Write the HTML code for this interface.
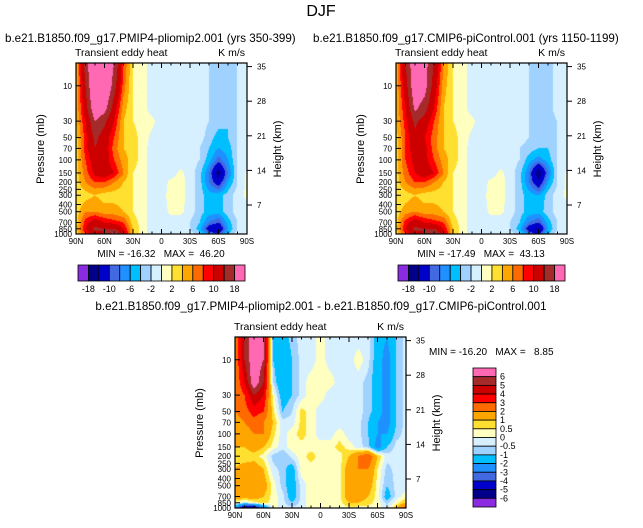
<!DOCTYPE html>
<html><head><meta charset="utf-8">
<style>
body{margin:0;background:#fff;}
#root{position:relative;width:643px;height:528px;overflow:hidden;background:#fff;font-family:"Liberation Sans",sans-serif;}
canvas{position:absolute;}
svg{position:absolute;left:0;top:0;}
text{white-space:pre;}
</style></head>
<body>
<div id="root">
<canvas id="c1"></canvas>
<canvas id="c2"></canvas>
<canvas id="c3"></canvas>
<svg id="s" width="643" height="528"></svg>
</div>
<script>
// ---- data ----
const lats = [90,80,70,60,50,40,30,20,10,0,-10,-20,-30,-40,-50,-60,-70,-80,-90];
const pressures = [5,10,20,30,50,70,100,150,200,300,500,700,850,1000];
const pressureTicks = [10,30,50,70,100,150,200,250,300,400,500,700,850,1000];
const heightTicks = [35,28,21,14,7];
const latTickLabels = ["90N","60N","30N","0","30S","60S","90S"];
const levelsAbs = [-18,-14,-10,-8,-6,-4,-2,0,2,4,6,8,10,14,18];
const absLabels = ["-18","-10","-6","-2","2","6","10","18"];
const levelsDiff = [-6,-5,-4,-3,-2,-1,-0.5,0,0.5,1,2,3,4,5,6];
const diffLabels = ["6","5","4","3","2","1","0.5","0","-0.5","-1","-2","-3","-4","-5","-6"];
const colors = ["#8a2be2","#00008b","#0000cd","#4169e1","#1e90ff","#00bfff","#a0d2ff","#d7f0ff","#ffffc0","#ffe030","#ffa500","#ff6a00","#ff0000","#cd0000","#a52a2a","#ff69b4"];

const pliomip = [
[4,16,24,24,18,8,2,1,-1,-1,-1,-1,-1,-1,-2,-3,-3,-2,-1],
[4,14,24,24,16,7,2,1,-1,-1,-1,-1,-1,-1,-2,-3,-3,-2,-1],
[4,12,22,20,12,5,2,1,-1,-1,-1,-1,-1,-1,-2,-3,-3,-2,-1],
[4,10,18,15,10,4,2,1,0.5,-1,-1,-1,-1,-1,-2,-3,-4,-2,-1],
[3,9,15,12,8,4,3,1,-0.5,-1,-1,-1,-1,-1,-3,-5,-4,-2,-1],
[3,9,14,12,7,4,3,1,-1,-2,-1,-1,-1,-2,-4,-6,-5,-2,-1],
[3,8,12,12,8,5,3,1,-1,-2,-2,-1,-1,-2,-5,-9,-6,-2,-1],
[3,7,11,12,10,6,2,1,-1,-1,-1,0.5,-1,-3,-8,-16,-8,-2,0.5],
[3,6,8,8,6,4,2,1,-1,-1,0.5,1,-1,-3,-8,-12,-6,-2,0.5],
[2,3,4,3,3,3,2,1,-1,-1,1,1,-1,-3,-5,-5,-3,-1,0.5],
[3,6,6,5,5,4,2,1,-1,-1,0.5,0.5,-1,-3,-5,-5,-3,-1,-1],
[3,9,12,10,9,8,3,1,-1,-1,-1,-1,-2,-4,-8,-10,-5,-2,-1],
[3,10,15,14,14,10,4,1,-1,-1,-1,-1,-2,-5,-12,-14,-6,-2,-1],
[3,8,13,14,20,12,4,1,-1,-1,-1,-1,-1,-3,-8,-10,-4,-1,-1]];
const picontrol = [
[4,14,22,20,14,6,2,1,-1,-1,-1,-1,-1,-1,-2,-2,-3,-1,-1],
[4,12,22,20,12,5,2,1,-1,-1,-1,-1,-1,-1,-2,-2.5,-3,-1,-1],
[4,10,19,16,10,4,2,1,-1,-1,-1,-1,-1,-1,-2,-2.5,-3,-1,-1],
[4,9,15,12,8,4,2,1,0.5,-1,-1,-1,-1,-1,-2,-3,-3,-2,-1],
[3,8,13,10,7,4,3,1,-0.5,-1,-1,-1,-1,-1,-2,-3,-3,-2,-1],
[3,8,12,11,7,4,3,1,-1,-2,-1,-1,-1,-2,-3,-4,-4,-2,-1],
[3,8,11,11,8,5,3,1,-1,-2,-2,-1,-1,-2,-5,-7,-5,-2,-1],
[3,7,10,12,10,6,2,1,-1,-1,-1,0.5,-1,-3,-8,-17,-8,-2,0.5],
[3,6,8,8,6,4,2,1,-1,-1,0.5,1,-1,-3,-8,-13,-6,-2,0.5],
[2,3,4,3,3,3,2,1,-1,-1,1,1,-1,-3,-5,-6,-3,-1,0.5],
[3,5,6,5,5,4,2,1,-1,-1,0.5,0.5,-1,-3,-5,-5,-3,-1,-1],
[3,9,12,10,9,8,3,1,-1,-1,-1,-1,-2,-4,-8,-10,-5,-2,-1],
[3,10,15,14,14,10,4,1,-1,-1,-1,-1,-2,-5,-12,-15,-6,-2,-1],
[3,8,13,14,19,12,4,1,-1,-1,-1,-1,-1,-3,-8,-11,-4,-1,-1]];
const difference = [
[2,5,7,6,-1,-1.5,-0.7,-0.3,-0.3,0.3,-0.3,-0.3,-0.3,-0.3,-0.3,-1.5,-2,-1,-0.3],
[2,5,7,6,-1,-2,-1,-0.3,-0.3,0.3,-0.3,-0.3,-0.3,0.3,-0.3,-1.5,-2.5,-1,-0.3],
[2,4,7,5,-0.5,-2,-1,-0.3,0.3,0.3,0.3,-0.3,-0.3,-0.3,-0.7,-1.5,-2.5,-1,-0.3],
[2,3,5,4,0.3,-1.5,-1,-0.3,0.3,0.3,-0.3,-0.3,-0.3,-0.3,-0.7,-1.5,-2.5,-1,-0.3],
[2,2.5,3.5,3,0.7,-1,-0.5,0.7,0.3,-0.3,-0.3,-0.3,-0.3,-0.3,-0.7,-1.5,-2.5,-1,-0.3],
[1.5,2,2.5,2,1,-0.3,-0.3,0.7,0.3,-0.3,-0.3,-0.3,-0.3,-0.3,-1,-2,-2.5,-1,-0.3],
[1.5,1.5,2,2,0.7,-0.3,0.3,0.7,0.3,-0.3,-0.3,0.3,-0.3,-0.3,-1,-2,-2,-0.7,-0.3],
[1,1,1.5,1,0.3,-0.3,0.3,0.3,0.3,0.3,0.3,0.7,0.3,-0.3,-0.7,-2.5,-1,-0.3,-0.3],
[0.7,0.5,0.7,0.3,-0.7,-1,-0.3,0.3,0.7,0.3,0.3,0.3,1,2,3,1,-0.3,-0.3,-0.3],
[1,1.5,1.5,1,-0.3,-0.7,-1.5,0.3,0.3,0.3,0.3,0.3,1.5,2,2,0.5,-0.7,-0.3,-0.3],
[1.5,1.5,2,1.5,0.3,-0.7,-1.5,-0.3,0.3,0.3,0.3,0.3,1.5,1.5,1.5,0.3,-1,-0.3,-0.3],
[1.5,1.5,1.5,1,0.3,-0.3,-1.5,-0.3,0.3,0.3,0.3,0.3,1.5,1.5,1,0.3,-1.5,-0.3,0.3],
[0.3,-0.3,0.3,0.7,0.3,-0.3,-1,-0.3,0.3,0.3,0.3,0.3,1,1,0.7,0.3,-0.7,0.3,1],
[-2,-6.5,-6.5,-3,0.3,-0.3,-0.3,-0.3,0.3,0.3,0.3,0.3,0.3,0.3,0.3,0.3,-0.3,1,3]];

// ---- geometry ----
const W = 171, H = 171;
const LPTOP = Math.log10(4.93);
function yOfP(p){ return (Math.log10(p)-LPTOP)/(3-LPTOP)*H; }
function xOfLat(l){ return (90-l)/180*W; }
function latOfX(x){ return 90 - x/W*180; }
function pOfY(y){ return Math.pow(10, LPTOP + y/H*(3-LPTOP)); }
function yOfKm(k){ return 205 - 63 - (k-7)/7*34.6; }

function sample(data, lat, p){
  const fi = (90-lat)/10;
  const i0 = Math.max(0, Math.min(lats.length-2, Math.floor(fi)));
  const tx = Math.max(0, Math.min(1, fi-i0));
  const lp = Math.log10(Math.max(5, Math.min(1000, p)));
  let j0 = 0;
  for (let j=0;j<pressures.length-1;j++){ if (lp >= Math.log10(pressures[j])) j0 = j; }
  const a = Math.log10(pressures[j0]), b = Math.log10(pressures[j0+1]);
  const ty = Math.max(0, Math.min(1, (lp-a)/(b-a)));
  const v00=data[j0][i0], v01=data[j0][i0+1], v10=data[j0+1][i0], v11=data[j0+1][i0+1];
  return (v00*(1-tx)+v01*tx)*(1-ty) + (v10*(1-tx)+v11*tx)*ty;
}
function colorFor(v, levels){
  let k=0; while (k<levels.length && v>=levels[k]) k++;
  return colors[k];
}
function drawField(id, x0, y0, data, levels){
  const c = document.getElementById(id);
  c.width=W; c.height=H; c.style.left=x0+'px'; c.style.top=y0+'px';
  const ctx = c.getContext('2d');
  for (let y=0;y<H;y++){
    for (let x=0;x<W;x++){
      ctx.fillStyle = colorFor(sample(data, latOfX(x+0.5), pOfY(y+0.5)), levels);
      ctx.fillRect(x,y,1,1);
    }
  }
}

const NS="http://www.w3.org/2000/svg";
const svg=document.getElementById('s');
function el(tag, attrs, parent){
  const e=document.createElementNS(NS,tag);
  for (const k in attrs) e.setAttribute(k, attrs[k]);
  (parent||svg).appendChild(e); return e;
}
function txt(x,y,s,size,anchor,name,extra){
  const t=el('text',Object.assign({x:x,y:y,'font-size':size,'text-anchor':anchor||'start',fill:'#000','font-family':'Liberation Sans, sans-serif'},extra||{}));
  t.textContent=s;
  
  
  return t;
}
function axes(x0,y0,prefix){
  const g=el('g',{});
  
  
  el('rect',{x:x0,y:y0,width:W,height:H,fill:'none',stroke:'#000','stroke-width':1.2},g);
  latTickLabels.forEach((lab,i)=>{
    const x=x0+xOfLat(90-i*30);
    el('line',{x1:x,y1:y0+H,x2:x,y2:y0+H-5,stroke:'#000'},g);
    el('line',{x1:x,y1:y0,x2:x,y2:y0+5,stroke:'#000'},g);
    txt(x,y0+H+10,lab,8,'middle',prefix+'-lat-tick-label');
  });
  for (let l=90;l>=-90;l-=10){
    const x=x0+xOfLat(l);
    el('line',{x1:x,y1:y0+H,x2:x,y2:y0+H-2.5,stroke:'#000'},g);
    el('line',{x1:x,y1:y0,x2:x,y2:y0+2.5,stroke:'#000'},g);
  }
  pressureTicks.forEach(p=>{
    const y=y0+yOfP(p);
    el('line',{x1:x0,y1:y,x2:x0+5,y2:y,stroke:'#000'},g);
    txt(x0-4,y+3,String(p),8,'end',prefix+'-pressure-tick-label');
  });
  heightTicks.forEach(k=>{
    const y=y0+yOfKm(k);
    el('line',{x1:x0+W,y1:y,x2:x0+W+5,y2:y,stroke:'#000'},g);
    txt(x0+W+10,y+3,String(k),8,'start',prefix+'-height-tick-label');
  });
  txt(x0-32,y0+86,'Pressure (mb)',11,'middle',prefix+'-y-axis-title',{transform:`rotate(-90 ${x0-32} ${y0+86})`});
  txt(x0+W+34,y0+86,'Height (km)',11,'middle',prefix+'-y-axis-right-title',{transform:`rotate(-90 ${x0+W+34} ${y0+86})`});
  txt(x0-1,y0-7,'Transient eddy heat',10.5,'start',prefix+'-left-string');
  txt(x0+W-2,y0-7,'K m/s',10.5,'end',prefix+'-units-string');
}
function hbar(x0,y0,prefix){
  const bw=167/16;
  colors.forEach((c,i)=>{
    const r=el('rect',{x:x0+i*bw,y:y0,width:bw,height:16,fill:c,stroke:'#000','stroke-width':0.8});
    
    
  });
  absLabels.forEach((lab,i)=>{ txt(x0+(1+2*i)*bw,y0+27,lab,9,'middle',prefix+'-colorbar-label'); });
}

drawField('c1',76,63,pliomip,levelsAbs);
drawField('c2',396,63,picontrol,levelsAbs);
drawField('c3',235,337,difference,levelsDiff);
axes(76,63,'pliomip');
axes(396,63,'picontrol');
axes(235,337,'difference');
hbar(78,265,'pliomip');
hbar(398,265,'picontrol');

// vertical diff colorbar
const vbh=139/16;
for (let i=0;i<16;i++){
  const r=el('rect',{x:473,y:368+i*vbh,width:23,height:vbh,fill:colors[15-i],stroke:'#000','stroke-width':0.8});
  
  
}
diffLabels.forEach((lab,i)=>{ txt(500,368+(i+1)*vbh+3,lab,9,'start','difference-colorbar-label'); });

txt(321,16,'DJF',16,'middle','figure-title');
txt(5,42,'b.e21.B1850.f09_g17.PMIP4-pliomip2.001 (yrs 350-399)',11.6,'start','pliomip-subtitle');
txt(313,42,'b.e21.B1850.f09_g17.CMIP6-piControl.001 (yrs 1150-1199)',11.6,'start','picontrol-subtitle');
txt(321,310,'b.e21.B1850.f09_g17.PMIP4-pliomip2.001 - b.e21.B1850.f09_g17.CMIP6-piControl.001',11.6,'middle','difference-subtitle');
txt(161,257,'MIN = -16.32   MAX =  46.20',10,'middle','pliomip-min-max');
txt(481,257,'MIN = -17.49   MAX =  43.13',10,'middle','picontrol-min-max');
txt(429,355,'MIN = -16.20   MAX =   8.85',10,'start','difference-min-max');
</script>
</body></html>
